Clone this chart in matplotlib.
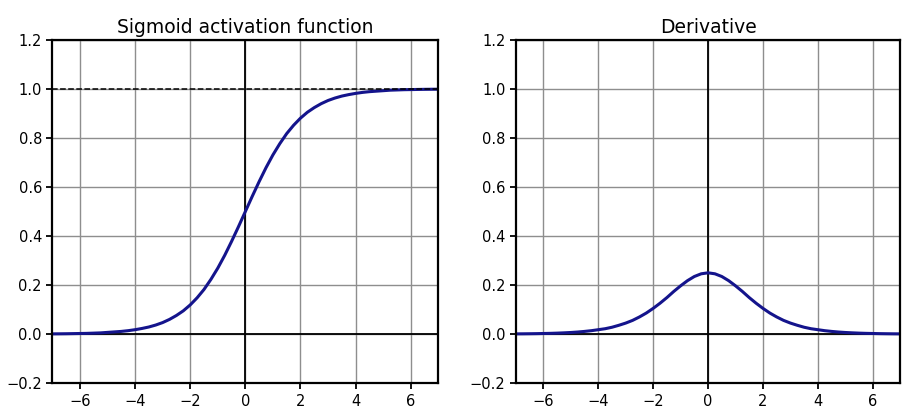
import matplotlib
matplotlib.use("Agg")
import matplotlib.pyplot as plt

# values at quarter-unit steps
x_vals = [-7, -6.75, -6.5, -6.25, -6, -5.75, -5.5, -5.25, -5, -4.75, -4.5, -4.25,
          -4, -3.75, -3.5, -3.25, -3, -2.75, -2.5, -2.25, -2, -1.75, -1.5, -1.25,
          -1, -0.75, -0.5, -0.25, 0, 0.25, 0.5, 0.75, 1, 1.25, 1.5, 1.75, 2, 2.25,
          2.5, 2.75, 3, 3.25, 3.5, 3.75, 4, 4.25, 4.5, 4.75, 5, 5.25, 5.5, 5.75,
          6, 6.25, 6.5, 6.75, 7]
sigmoid_vals = [0.001, 0.0012, 0.0015, 0.002, 0.0025, 0.003, 0.004, 0.005, 0.007,
                0.009, 0.011, 0.014, 0.018, 0.023, 0.029, 0.037, 0.047, 0.060, 0.076,
                0.095, 0.119, 0.148, 0.182, 0.223, 0.269, 0.321, 0.378, 0.438, 0.5,
                0.562, 0.622, 0.679, 0.731, 0.777, 0.818, 0.852, 0.881, 0.905, 0.924,
                0.940, 0.953, 0.963, 0.971, 0.977, 0.982, 0.986, 0.989, 0.991, 0.993,
                0.995, 0.996, 0.997, 0.9975, 0.998, 0.9985, 0.9988, 0.999]
deriv_vals = [0.001, 0.0012, 0.0015, 0.0019, 0.0025, 0.0031, 0.004, 0.0052, 0.0066,
              0.0085, 0.011, 0.014, 0.018, 0.022, 0.028, 0.036, 0.045, 0.056, 0.070,
              0.086, 0.105, 0.126, 0.149, 0.174, 0.197, 0.218, 0.235, 0.246, 0.25,
              0.246, 0.235, 0.218, 0.197, 0.174, 0.149, 0.126, 0.105, 0.086, 0.070,
              0.056, 0.045, 0.036, 0.028, 0.022, 0.018, 0.014, 0.011, 0.0085, 0.0066,
              0.0052, 0.004, 0.0031, 0.0025, 0.0019, 0.0015, 0.0012, 0.001]

titles = ["Sigmoid activation function", "Derivative"]
curve_color = "#14148c"

fig = plt.figure(figsize=(9.02, 4.16), dpi=100)
ax1 = fig.add_axes([0.058, 0.079, 0.428, 0.825])
ax2 = fig.add_axes([0.572, 0.079, 0.426, 0.825])

for ax, vals, title in [(ax1, sigmoid_vals, titles[0]), (ax2, deriv_vals, titles[1])]:
    ax.grid(True, color="#8e8e8e", linewidth=1.0)
    ax.set_axisbelow(True)
    ax.axhline(0, color="black", linewidth=1.3)
    ax.axvline(0, color="black", linewidth=1.3)
    ax.plot(x_vals, vals, color=curve_color, linewidth=2.2, solid_joinstyle="round")
    ax.set_xlim(-7, 7)
    ax.set_ylim(-0.2, 1.2)
    ax.set_xticks([-6, -4, -2, 0, 2, 4, 6])
    ax.set_yticks([-0.2, 0.0, 0.2, 0.4, 0.6, 0.8, 1.0, 1.2])
    ax.tick_params(labelsize=10.5, width=1.3, length=4)
    for s in ax.spines.values():
        s.set_linewidth(1.6)
    ax.set_title(title, fontsize=13.5, pad=5)

ax1.plot([-7, 7], [1, 1], color="black", linestyle="--", linewidth=1.1)

fig.savefig("out.png", dpi=100)
